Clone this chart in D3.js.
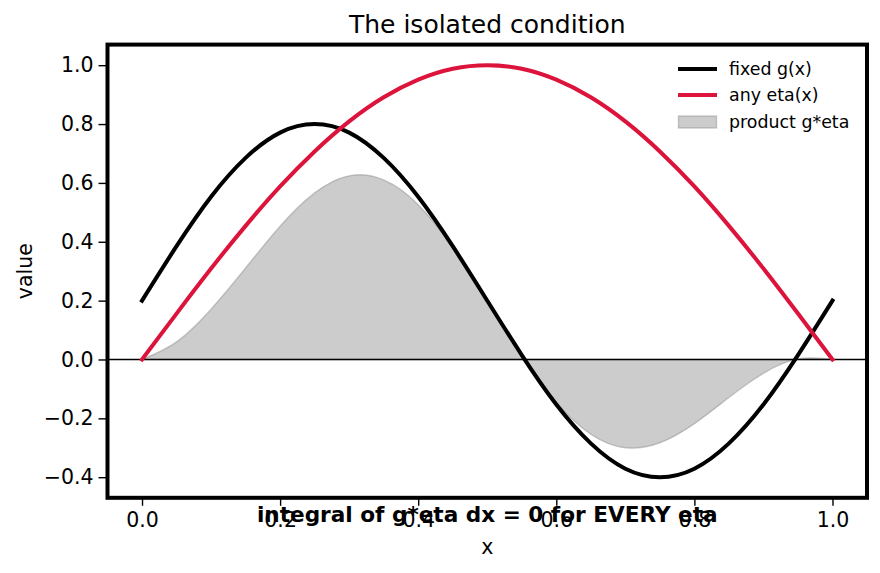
<!DOCTYPE html>
<html>
<head>
<meta charset="utf-8">
<script src="https://cdn.jsdelivr.net/npm/d3@7"></script>
<style>
	body { margin: 0; background: #fff; }
	text { font-family: "DejaVu Sans", sans-serif; fill: #000; }
</style>
</head>
<body>
<div class="chart"></div>
<script>
// sample positions along x
var xs = [0, 0.05, 0.1, 0.15, 0.2, 0.25, 0.3, 0.35, 0.4, 0.45, 0.5,
	0.55, 0.6, 0.65, 0.7, 0.75, 0.8, 0.85, 0.9, 0.95, 1.0];
// fixed g(x)
var gVals = [0.2, 0.385, 0.553, 0.685, 0.771, 0.8, 0.771, 0.685, 0.553, 0.385, 0.2,
	0.015, -0.153, -0.285, -0.371, -0.4, -0.371, -0.285, -0.153, 0.015, 0.2];
// any eta(x), red curve
var etaVals = [0, 0.156, 0.309, 0.454, 0.588, 0.707, 0.809, 0.891, 0.951, 0.988, 1.0,
	0.988, 0.951, 0.891, 0.809, 0.707, 0.588, 0.454, 0.309, 0.156, 0];
// shaded product g*eta
var prodVals = [0, 0.06, 0.171, 0.311, 0.453, 0.566, 0.624, 0.61, 0.526, 0.38, 0.2,
	0.015, -0.145, -0.254, -0.3, -0.283, -0.218, -0.129, -0.047, 0.002, 0];

var xTicks = [0, 0.2, 0.4, 0.6, 0.8, 1.0];
var yTicks = [-0.4, -0.2, 0, 0.2, 0.4, 0.6, 0.8, 1.0];
var legendLabels = ["fixed g(x)", "any eta(x)", "product g*eta"];

(function () {
	var W = 880, H = 573;
	var left = 107.5, right = 867, top = 44.6, bottom = 497.8;

	var svg = d3.select(".chart").append("svg")
		.attr("width", W).attr("height", H);

	var x = d3.scaleLinear().domain([-0.05, 1.05]).range([left, right]);
	var y = d3.scaleLinear().domain([-0.47, 1.07]).range([bottom, top]);

	var pts = function (vals) { return xs.map(function (d, i) { return [d, vals[i]]; }); };

	// product area
	var area = d3.area()
		.x(function (d) { return x(d[0]); })
		.y0(y(0))
		.y1(function (d) { return y(d[1]); })
		.curve(d3.curveNatural);
	svg.append("path")
		.attr("d", area(pts(prodVals)))
		.attr("fill", "gray").attr("fill-opacity", 0.4)
		.attr("stroke", "gray").attr("stroke-opacity", 0.4).attr("stroke-width", 1.4);

	// zero line
	svg.append("line")
		.attr("x1", left).attr("x2", right)
		.attr("y1", y(0)).attr("y2", y(0))
		.attr("stroke", "#000").attr("stroke-width", 1.4);

	var line = d3.line()
		.x(function (d) { return x(d[0]); })
		.y(function (d) { return y(d[1]); })
		.curve(d3.curveNatural);

	svg.append("path").attr("d", line(pts(gVals)))
		.attr("fill", "none").attr("stroke", "#000").attr("stroke-width", 4)
		.attr("stroke-linecap", "square");
	svg.append("path").attr("d", line(pts(etaVals)))
		.attr("fill", "none").attr("stroke", "crimson").attr("stroke-width", 4)
		.attr("stroke-linecap", "square");

	// axes
	var xAxis = svg.append("g")
		.attr("transform", "translate(0," + bottom + ")")
		.call(d3.axisBottom(x).tickValues(xTicks).tickFormat(d3.format(".1f"))
			.tickSize(8).tickSizeOuter(0).tickPadding(7));
	var yAxis = svg.append("g")
		.attr("transform", "translate(" + left + ",0)")
		.call(d3.axisLeft(y).tickValues(yTicks).tickFormat(d3.format(".1f"))
			.tickSize(9).tickSizeOuter(0).tickPadding(5));
	[xAxis, yAxis].forEach(function (a) {
		a.select(".domain").remove();
		a.selectAll(".tick line").attr("stroke", "#000").attr("stroke-width", 1.4);
		a.selectAll(".tick text")
			.style("font-family", "'DejaVu Sans', sans-serif")
			.style("font-size", "20.5px").attr("fill", "#000");
	});

	// frame
	svg.append("rect")
		.attr("x", left).attr("y", top)
		.attr("width", right - left).attr("height", bottom - top)
		.attr("fill", "none").attr("stroke", "#000").attr("stroke-width", 4);

	var cx = (left + right) / 2;
	svg.append("text").attr("x", cx).attr("y", 33)
		.attr("text-anchor", "middle").style("font-size", "25px")
		.text("The isolated condition");
	svg.append("text").attr("x", cx).attr("y", 554)
		.attr("text-anchor", "middle").style("font-size", "20.5px")
		.text("x");
	svg.append("text")
		.attr("transform", "translate(32," + (top + bottom) / 2 + ") rotate(-90)")
		.attr("text-anchor", "middle").style("font-size", "20.5px")
		.text("value");
	svg.append("text").attr("x", cx).attr("y", 522)
		.attr("text-anchor", "middle").style("font-size", "21.6px")
		.style("font-weight", "bold")
		.text("integral of g*eta dx = 0 for EVERY eta");

	// legend
	var lg = svg.append("g").attr("transform", "translate(678,0)");
	var rows = [69, 95, 122];
	lg.append("line").attr("x1", 0).attr("x2", 39).attr("y1", rows[0]).attr("y2", rows[0])
		.attr("stroke", "#000").attr("stroke-width", 4);
	lg.append("line").attr("x1", 0).attr("x2", 39).attr("y1", rows[1]).attr("y2", rows[1])
		.attr("stroke", "crimson").attr("stroke-width", 4);
	lg.append("rect").attr("x", 0.5).attr("y", rows[2] - 6).attr("width", 38).attr("height", 12)
		.attr("fill", "gray").attr("fill-opacity", 0.4)
		.attr("stroke", "gray").attr("stroke-opacity", 0.4).attr("stroke-width", 1.4);
	lg.selectAll("text.lab").data(legendLabels).enter().append("text")
		.attr("class", "lab")
		.attr("x", 51)
		.attr("y", function (d, i) { return rows[i] + 6; })
		.style("font-size", "17.4px")
		.text(function (d) { return d; });
})();
</script>
</body>
</html>
